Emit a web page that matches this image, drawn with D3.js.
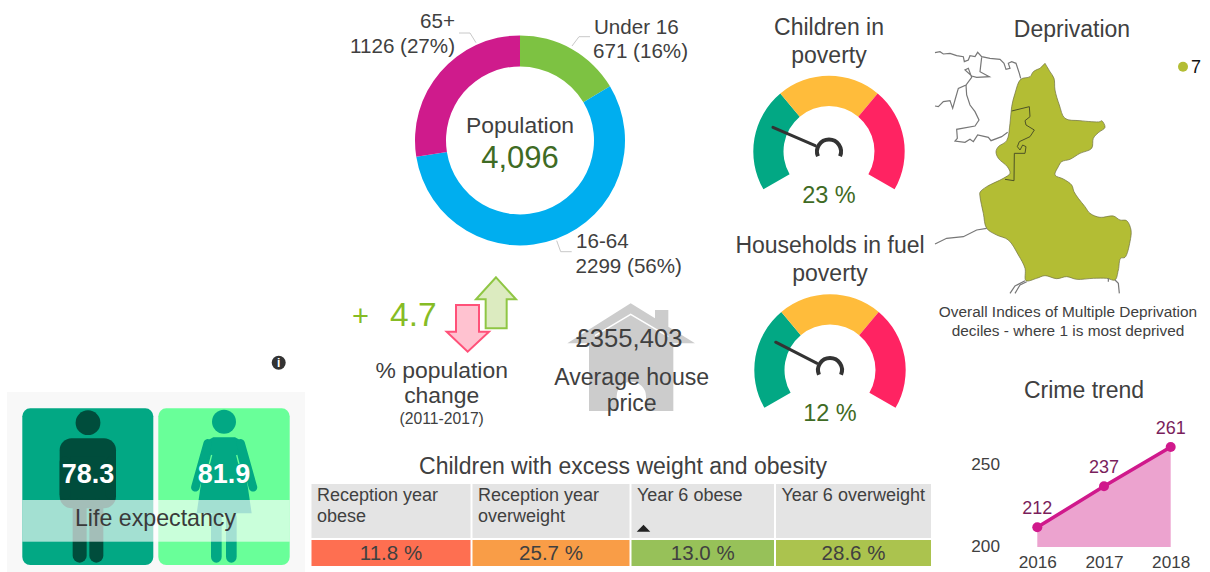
<!DOCTYPE html>
<html><head><meta charset="utf-8">
<script src="https://cdn.jsdelivr.net/npm/d3@7/dist/d3.min.js"></script>
<style>html,body{margin:0;padding:0;background:#fff}svg{display:block}text{font-family:"Liberation Sans",Arial,sans-serif;fill:#404040}</style>
</head><body><svg id="c" width="1210" height="572"></svg>
<script>
// ---- data ----
const popGroups = ["Under 16","16-64","65+"];
const popValues = [671,2299,1126];
const popShares = [16,56,27];
const popTotal = "4,096";
const popColors = ["#7dc242","#00aeef","#cf1b8c"];
const gaugeTitles = [["Children in","poverty"],["Households in fuel","poverty"]];
const gaugeValues = [23,12];
const gaugeNeedle = [0.222,0.238];
const gaugeBands = [0,1/3,2/3,1];
const gaugeColors = ["#02a884","#ffbc3b","#ff2362"];
const popChange = 4.7;
const housePrice = "£355,403";
const lifeValues = ["78.3","81.9"];
const obesityHeads = [["Reception year","obese"],["Reception year","overweight"],["Year 6 obese"],["Year 6 overweight"]];
const obesityValues = [11.8,25.7,13.0,28.6];
const obesityColors = ["#fe6f51","#f99d47","#97c159","#abc34e"];
const crimeYears = [2016,2017,2018];
const crimeValues = [212,237,261];
const crimeTicks = [200,250];
const deprivationLegend = ["7"];
// shapes (map units)
const mapArea = [[345,160],[360,185],[372,205],[375,240],[388,285],[405,325],[450,332],[510,335],[515,332],[525,352],[505,368],[490,385],[485,415],[450,430],[420,448],[395,455],[385,470],[375,495],[400,507],[425,525],[432,545],[445,565],[465,590],[480,610],[510,622],[550,618],[570,630],[590,632],[603,660],[600,695],[585,742],[572,745],[565,780],[555,810],[530,805],[490,805],[440,808],[410,800],[380,806],[345,797],[320,805],[288,812],[285,775],[265,735],[235,690],[200,675],[170,655],[160,610],[150,560],[150,547],[170,530],[220,505],[240,490],[232,470],[205,445],[198,425],[205,410],[230,392],[240,340],[245,290],[255,250],[272,208],[300,200],[310,185],[330,175]];
const mapInner = [[245,303],[298,290],[300,320],[285,332],[288,345],[313,360],[300,380],[268,395],[262,410],[270,420],[278,405],[288,410],[285,430],[253,430],[252,512],[225,508]];
const mapGrey = [
 [[15,128],[30,125],[40,132],[60,130],[80,137],[100,140],[103,155],[115,150],[120,137],[135,140],[143,127],[155,140],[180,145],[210,148],[222,160],[228,178],[240,175],[235,160],[245,155],[258,160],[268,190],[272,205]],
 [[155,142],[150,185],[178,200],[140,202],[125,198],[105,180],[115,175],[125,202],[108,225],[85,235],[75,270],[68,295],[60,272],[40,275],[25,290],[15,288]],
 [[108,225],[110,255],[120,285],[135,305],[147,330],[135,348],[80,358],[82,385],[75,393],[105,397],[120,388],[130,395],[143,375],[175,382],[183,392],[215,380],[233,367]],
 [[15,702],[50,685],[100,680],[140,660],[170,655]],
 [[240,850],[255,828],[285,812]],[[255,850],[270,825],[290,815]],
 [[555,810],[565,820],[568,850]],[[535,805],[535,815]]
];
const arrowUp = [[468,22],[528,88],[500,88],[500,175],[437,175],[437,88],[408,88]];
const arrowDown = [[348,105],[417,105],[417,185],[447,185],[383,245],[320,185],[348,185]];
const houseBody = [[212,25],[285,70],[285,45],[325,45],[325,95],[405,145],[340,145],[340,348],[87,348],[87,145],[22,145]];
const houseLine = [[105,122],[212,58],[325,125]];
const dressShape = [[150,125],[175,112],[240,112],[265,125],[268,190],[290,340],[125,340],[147,190]];

const svg = d3.select("#c");
const txt = (s,x,y,size,o={}) => svg.append("text").attr("x",x).attr("y",y).attr("font-size",size)
  .attr("text-anchor",o.a||"middle").attr("font-weight",o.w||null).style("fill",o.c||"#404040").text(s);
const rad = d => d*Math.PI/180;
const line = d3.line();

// ---- donut ----
const pie = d3.pie().sort(null)(popValues);
const donut = d3.arc().innerRadius(74).outerRadius(105);
const gD = svg.append("g").attr("transform","translate(520,140.4)");
gD.selectAll("path").data(pie).join("path").attr("d",donut).attr("fill",(d,i)=>popColors[i]);
[[[590,36.7],[579,36.7],[572,46]],[[571.7,251.7],[560.7,251.7],[556.7,240.7]],[[459,33],[470,33],[476,42.7]]]
 .forEach(p=>svg.append("path").attr("d",line(p)).attr("fill","none").attr("stroke","#c8c8c8").attr("stroke-width",1));
const lab = i => `${popValues[i]} (${popShares[i]}%)`;
txt(popGroups[0],594,33.5,20.6,{a:"start"}); txt(lab(0),593,58,20.6,{a:"start"});
txt(popGroups[1],576,248,20.6,{a:"start"}); txt(lab(1),575.5,272.7,20.6,{a:"start"});
txt(popGroups[2],455,28,20.6,{a:"end"}); txt(lab(2),455,52.7,20.6,{a:"end"});
txt("Population",520,133,22.9);
txt(popTotal,520,168,31,{c:"#3f6b24"});

// ---- gauges ----
const gaugeAngle = d3.scaleLinear().domain([0,1]).range([-120,120]);
const gaugeCenters = [[829,151.5],[830,370]];
const titleY = [[35,63],[253,281]];
const valY = [203,421];
gaugeValues.forEach((v,k)=>{
  const [cx,cy]=gaugeCenters[k];
  const g=svg.append("g").attr("transform",`translate(${cx},${cy})`);
  const arc=d3.arc().innerRadius(45.5).outerRadius(75.7);
  g.selectAll("path.b").data(gaugeColors).join("path").attr("class","b")
   .attr("d",(c,i)=>arc({startAngle:rad(gaugeAngle(gaugeBands[i])),endAngle:rad(gaugeAngle(gaugeBands[i+1]))})).attr("fill",c=>c);
  const a=rad(gaugeAngle(gaugeNeedle[k]));
  g.append("line").attr("x1",15*Math.sin(a)).attr("y1",-15*Math.cos(a)).attr("x2",61*Math.sin(a)).attr("y2",-61*Math.cos(a))
   .attr("stroke","#333").attr("stroke-width",3).attr("stroke-linecap","round");
  g.append("path").attr("d",d3.arc().innerRadius(12).outerRadius(12)({startAngle:rad(-113),endAngle:rad(113)}))
   .attr("fill","none").attr("stroke","#333").attr("stroke-width",4).attr("stroke-linecap","round");
  txt(gaugeTitles[k][0],cx,titleY[k][0],23);
  txt(gaugeTitles[k][1],cx,titleY[k][1],23);
  txt(v+" %",cx,valY[k],23.5,{c:"#3f6b24"});
});

// ---- deprivation map ----
const mapX=d3.scaleLinear().domain([0,840]).range([930,1210]);
const mapY=d3.scaleLinear().domain([0,1020]).range([10,350]);
const mapLine=d3.line().x(d=>mapX(d[0])).y(d=>mapY(d[1]));
svg.append("path").attr("d",mapLine.curve(d3.curveCatmullRom.alpha(0.5))(mapArea)+"Z").attr("fill","#b3bd34").attr("stroke","#6f7040").attr("stroke-width",0.7);
mapLine.curve(d3.curveLinear);
mapGrey.forEach(p=>svg.append("path").attr("d",mapLine(p)).attr("fill","none").attr("stroke","#777").attr("stroke-width",1.2));
svg.append("path").attr("d",mapLine(mapInner)).attr("fill","none").attr("stroke","#4d5226").attr("stroke-width",1);
txt("Deprivation",1072,37,23);
svg.append("circle").attr("cx",1183).attr("cy",66.7).attr("r",5).attr("fill","#b3bd34");
txt(deprivationLegend[0],1191,73,18,{a:"start",c:"#111"});
txt("Overall Indices of Multiple Deprivation",1068,317,15.4);
txt("deciles - where 1 is most deprived",1068,336,15.4);

// ---- population change ----
const zX=d3.scaleLinear().domain([0,1140]).range([340,720]);
const zY=d3.scaleLinear().domain([0,510]).range([270,440]);
const zLine=d3.line().x(d=>zX(d[0])).y(d=>zY(d[1]));
svg.append("path").attr("d",zLine(arrowUp)+"Z").attr("fill","#dcebc0").attr("stroke","#8fc644").attr("stroke-width",2);
svg.append("path").attr("d",zLine(arrowDown)+"Z").attr("fill","#ffc2d0").attr("stroke","#ff5179").attr("stroke-width",2);
txt("+",360.5,326,29,{c:"#86bc25"});
txt(popChange,390,326,33.5,{a:"start",c:"#86bc25"});
txt("% population",441.7,378,22.9);
txt("change",441.7,403.3,22.9);
txt("(2011-2017)",441.7,424,15.7);

// ---- house ----
const hX=d3.scaleLinear().domain([0,450]).range([560,710]);
const hY=d3.scaleLinear().domain([0,375]).range([295,420]);
const hLine=d3.line().x(d=>hX(d[0])).y(d=>hY(d[1]));
svg.append("path").attr("d",hLine(houseBody)+"Z").attr("fill","#cccccc");
svg.append("path").attr("d",hLine(houseLine)).attr("fill","none").attr("stroke","#fff").attr("stroke-width",1.5);
const door=d3.path(); door.moveTo(hX(170),hY(348)); door.lineTo(hX(170),hY(304)); door.arc(hX(214),hY(304),hX(258)-hX(214),Math.PI,0); door.lineTo(hX(258),hY(348)); door.closePath();
svg.append("path").attr("d",door.toString()).attr("fill","#fff");
txt(housePrice,629,347.3,25.6);
txt("Average house",631.7,385,23.1);
txt("price",631.7,411,23.1);

// ---- life expectancy ----
svg.append("rect").attr("x",7).attr("y",392).attr("width",298).attr("height",180).attr("fill","#f8f8f8");
svg.append("rect").attr("x",22.3).attr("y",408.3).attr("width",131).attr("height",156.7).attr("rx",8).attr("fill","#02a884");
svg.append("rect").attr("x",158.3).attr("y",408.3).attr("width",131.4).attr("height",156.7).attr("rx",8).attr("fill","#69ff99");
// male figure
const mX=d3.scaleLinear().domain([0,420]).range([20,160]);
const mY=d3.scaleLinear().domain([0,516]).range([400,572]);
const male=svg.append("g"), mCol="#004d3c";
male.append("circle").attr("cx",mX(204)).attr("cy",mY(68)).attr("r",12.4).attr("fill",mCol);
male.append("rect").attr("x",mX(119)).attr("y",mY(115)).attr("width",mX(288)-mX(119)).attr("height",70).attr("rx",12).attr("fill",mCol);
male.append("rect").attr("x",mX(119)).attr("y",mY(170)).attr("width",mX(150)-mX(119)).attr("height",mY(298)-mY(170)).attr("rx",5).attr("fill",mCol);
male.append("rect").attr("x",mX(257)).attr("y",mY(170)).attr("width",mX(288)-mX(257)).attr("height",mY(298)-mY(170)).attr("rx",5).attr("fill",mCol);
male.append("rect").attr("x",mX(152)).attr("y",mY(170)).attr("width",mX(255)-mX(152)).attr("height",mY(300)-mY(170)).attr("fill",mCol);
[[158,200],[208,250]].forEach(l=>male.append("rect").attr("x",mX(l[0])).attr("y",mY(295)).attr("width",mX(l[1])-mX(l[0])).attr("height",mY(488)-mY(295)).attr("rx",7).attr("fill",mCol));
// female figure
const fX=d3.scaleLinear().domain([0,420]).range([155,295]);
const fY=mY;
const fLine=d3.line().x(d=>fX(d[0])).y(d=>fY(d[1]));
const fem=svg.append("g"), fCol="#02a884";
fem.append("circle").attr("cx",fX(207)).attr("cy",fY(65)).attr("r",12).attr("fill",fCol);
fem.append("path").attr("d",fLine(dressShape)+"Z").attr("fill",fCol);
[[[158,130],[121,262]],[[257,130],[294,262]]].forEach(p=>fem.append("path").attr("d",fLine(p)).attr("stroke",fCol).attr("stroke-width",8.5).attr("stroke-linecap","round"));
[[[170,165],[163,192]],[[245,165],[252,192]]].forEach(p=>fem.append("path").attr("d",fLine(p)).attr("stroke","#69ff99").attr("stroke-width",1.3));
[[168,200],[213,245]].forEach(l=>fem.append("rect").attr("x",fX(l[0])).attr("y",fY(335)).attr("width",fX(l[1])-fX(l[0])).attr("height",fY(488)-fY(335)).attr("rx",6).attr("fill",fCol));
svg.append("rect").attr("x",22.3).attr("y",500).attr("width",267.4).attr("height",41.7).attr("fill","#fff").attr("fill-opacity",0.64);
txt(lifeValues[0],88,482.7,27,{w:"bold",c:"#fff"});
txt(lifeValues[1],224,482.7,27,{w:"bold",c:"#fff"});
txt("Life expectancy",155.5,526,23.2,{c:"#3a3a3a"});
// info icon
svg.append("circle").attr("cx",278.7).attr("cy",362.7).attr("r",7).attr("fill","#333");
svg.append("text").attr("x",278.7).attr("y",367).attr("font-size",12).attr("font-weight","bold").attr("text-anchor","middle").style("fill","#fff").text("i");

// ---- obesity table ----
txt("Children with excess weight and obesity",623,474,23);
const colEdges=[311.5,472.5,631.5,776,931];
obesityValues.forEach((v,i)=>{
  const x0=colEdges[i], x1=colEdges[i+1]-(i<3?2:0);
  svg.append("rect").attr("x",x0).attr("y",484).attr("width",x1-x0).attr("height",54).attr("fill","#e4e4e4");
  svg.append("rect").attr("x",x0).attr("y",540).attr("width",x1-x0).attr("height",26).attr("fill",obesityColors[i]);
  obesityHeads[i].forEach((t,j)=>txt(t,x0+5.5,501+j*20.5,18,{a:"start"}));
  txt(v.toFixed(1)+" %",(x0+x1)/2,560,20.5);
});
svg.append("path").attr("d",d3.symbol(d3.symbolTriangle,80)()).attr("transform","translate(643.5,529.5) scale(1,.6)").attr("fill","#222");

// ---- crime trend ----
txt("Crime trend",1084,398,23);
const cx=d3.scalePoint().domain(crimeYears).range([1037.3,1170.7]);
const cy=d3.scaleLinear().domain([200,261]).range([546.9,447]);
svg.append("path").attr("d",d3.area().x((d,i)=>cx(crimeYears[i])).y0(cy(200)).y1(d=>cy(d))(crimeValues)).attr("fill","#eca3cf");
svg.append("path").attr("d",d3.line().x((d,i)=>cx(crimeYears[i])).y(d=>cy(d))(crimeValues)).attr("fill","none").attr("stroke","#d0198c").attr("stroke-width",3.5);
svg.selectAll("circle.p").data(crimeValues).join("circle").attr("class","p").attr("cx",(d,i)=>cx(crimeYears[i])).attr("cy",d=>cy(d)).attr("r",5).attr("fill","#d0198c");
crimeValues.forEach((d,i)=>txt(d,cx(crimeYears[i]),cy(d)-13,18,{c:"#7a1e5c"}));
const axL=svg.append("g").attr("transform","translate(1000,-1)").call(d3.axisLeft(cy).tickValues(crimeTicks).tickSize(0).tickPadding(0));
axL.select(".domain").remove();
axL.selectAll("text").attr("font-size",17.2).style("fill","#404040");
const axB=svg.append("g").attr("transform","translate(0,556)").call(d3.axisBottom(cx).tickFormat(d3.format("d")).tickSize(0).tickPadding(0));
axB.select(".domain").remove();
axB.selectAll("text").attr("font-size",17.2).style("fill","#404040");
svg.selectAll("g").attr("font-family",null);
</script></body></html>
